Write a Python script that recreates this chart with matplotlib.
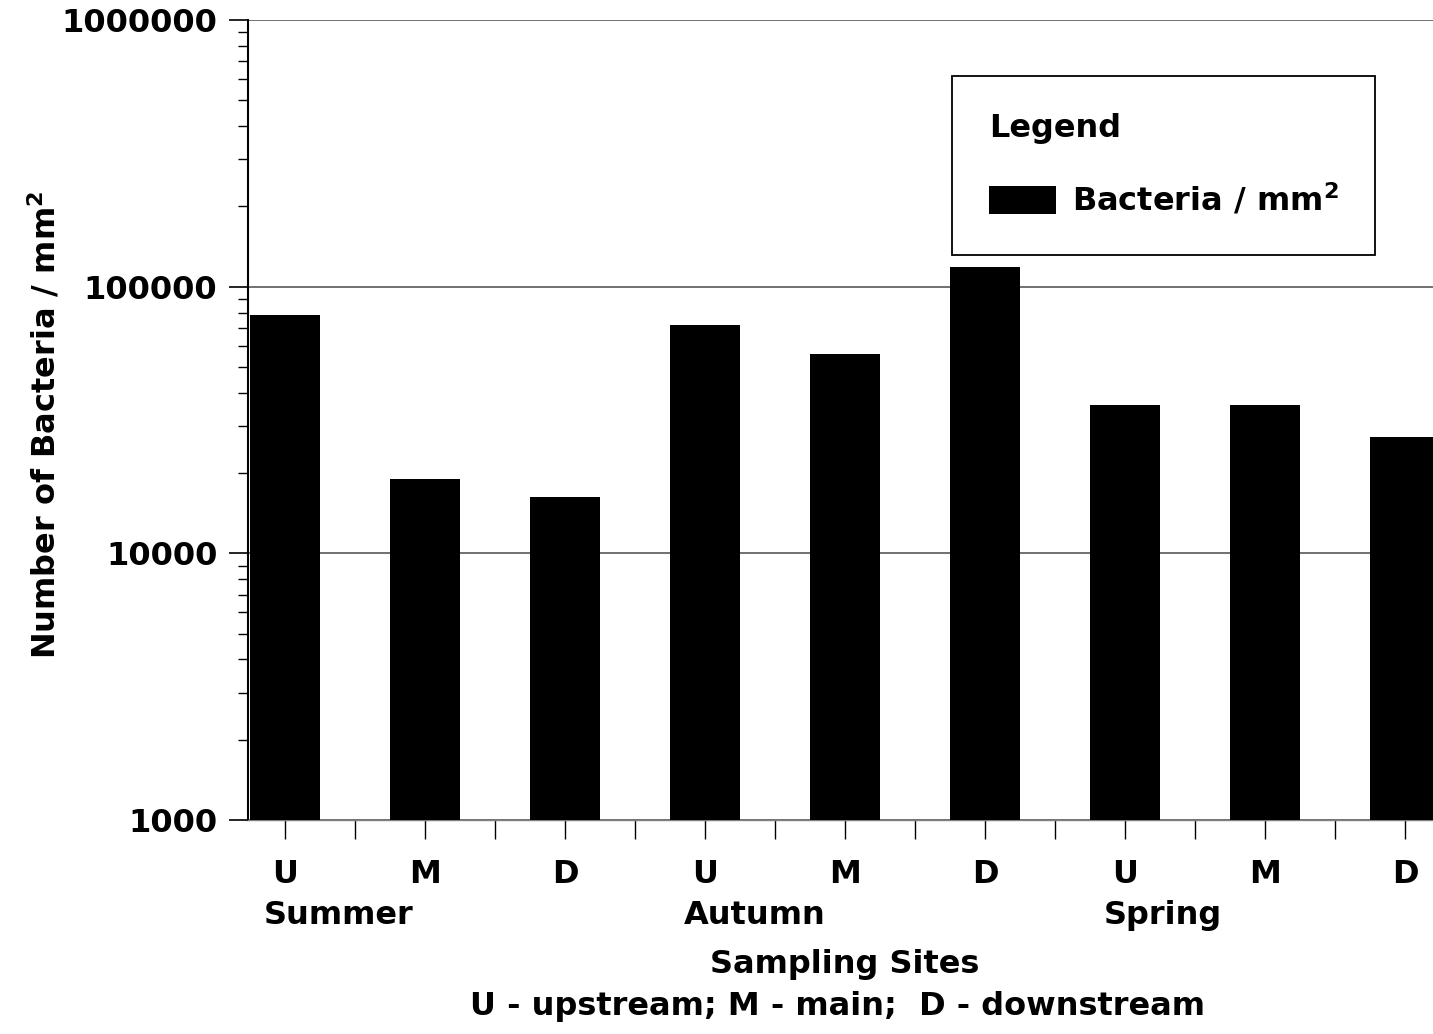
import numpy as np
import matplotlib.pyplot as plt
from matplotlib.ticker import FixedLocator, LogLocator, NullFormatter

sites = ['U', 'M', 'D', 'U', 'M', 'D', 'U', 'M', 'D']
seasons = ['Summer', 'Autumn', 'Spring']
bacteria = [78000, 19000, 16300, 71800, 55900, 118500, 36000, 36000, 27300]
ytick_vals = [1000, 10000, 100000, 1000000]
ytick_labels = ['1000', '10000', '100000', '1000000']

plt.rcParams['font.family'] = ['DejaVu Sans']
fs = 23

fig = plt.figure(figsize=(14.33, 10.34), dpi=100)
ax = fig.add_axes([248 / 1433, 1 - 820 / 1034, 1 - 248 / 1433, 800 / 1034])

x = np.arange(len(bacteria))
ax.bar(x, bacteria, width=0.5, color='black', zorder=3, label='Bacteria / mm$^\\mathbf{2}$')

ax.set_yscale('log')
ax.set_ylim(1000, 1000000)
ax.set_xlim(-0.265, 8.2)

ax.set_yticks(ytick_vals)
ax.set_yticklabels(ytick_labels, fontsize=fs, fontweight='bold')
ax.yaxis.set_minor_locator(LogLocator(base=10, subs=np.arange(2, 10)))
ax.yaxis.set_minor_formatter(NullFormatter())
ax.tick_params(axis='y', which='major', length=14, width=1.2, pad=8)
ax.tick_params(axis='y', which='minor', length=7, width=1)

ax.set_xticks(x)
ax.set_xticklabels(sites, fontsize=fs, fontweight='bold')
ax.xaxis.set_minor_locator(FixedLocator(x[:-1] + 0.5))
ax.tick_params(axis='x', which='major', length=14, width=1, pad=14)
ax.tick_params(axis='x', which='minor', length=14, width=1)

ax.grid(axis='y', which='major', color='0.4', linewidth=1.3, zorder=0)

for side in ['top', 'right']:
    ax.spines[side].set_visible(False)
ax.spines['left'].set_linewidth(1.5)
ax.spines['bottom'].set_color('0.5')
ax.spines['bottom'].set_linewidth(1)

for i, s in enumerate(seasons):
    ax.text(x[i * 3] - 0.15, -0.1, s, transform=ax.get_xaxis_transform(),
            ha='left', va='top', fontsize=fs, fontweight='bold')

fig.text(845 / 1433, 1 - 965 / 1034, 'Sampling Sites', ha='center', va='center',
         fontsize=fs, fontweight='bold')
fig.text(838 / 1433, 1 - 1007 / 1034, 'U - upstream; M - main;  D - downstream',
         ha='center', va='center', fontsize=fs, fontweight='bold')
fig.text(45 / 1433, 1 - 425 / 1034, 'Number of Bacteria / mm$^\\mathbf{2}$', rotation=90,
         ha='center', va='center', fontsize=fs, fontweight='bold')

leg = ax.legend(loc='upper left', bbox_to_anchor=(952 / 1433, 1 - 76 / 1034),
                bbox_transform=fig.transFigure, title='Legend', alignment='left',
                fancybox=False, framealpha=1, edgecolor='black',
                prop={'size': fs, 'weight': 'bold'}, title_fontproperties={'size': fs, 'weight': 'bold'},
                handlelength=2.1, handleheight=1.0, borderpad=1.15, labelspacing=1.2,
                handletextpad=0.5, borderaxespad=0)
leg.get_frame().set_linewidth(1.3)
leg.set_zorder(5)

fig.savefig('out.png', dpi=100)
